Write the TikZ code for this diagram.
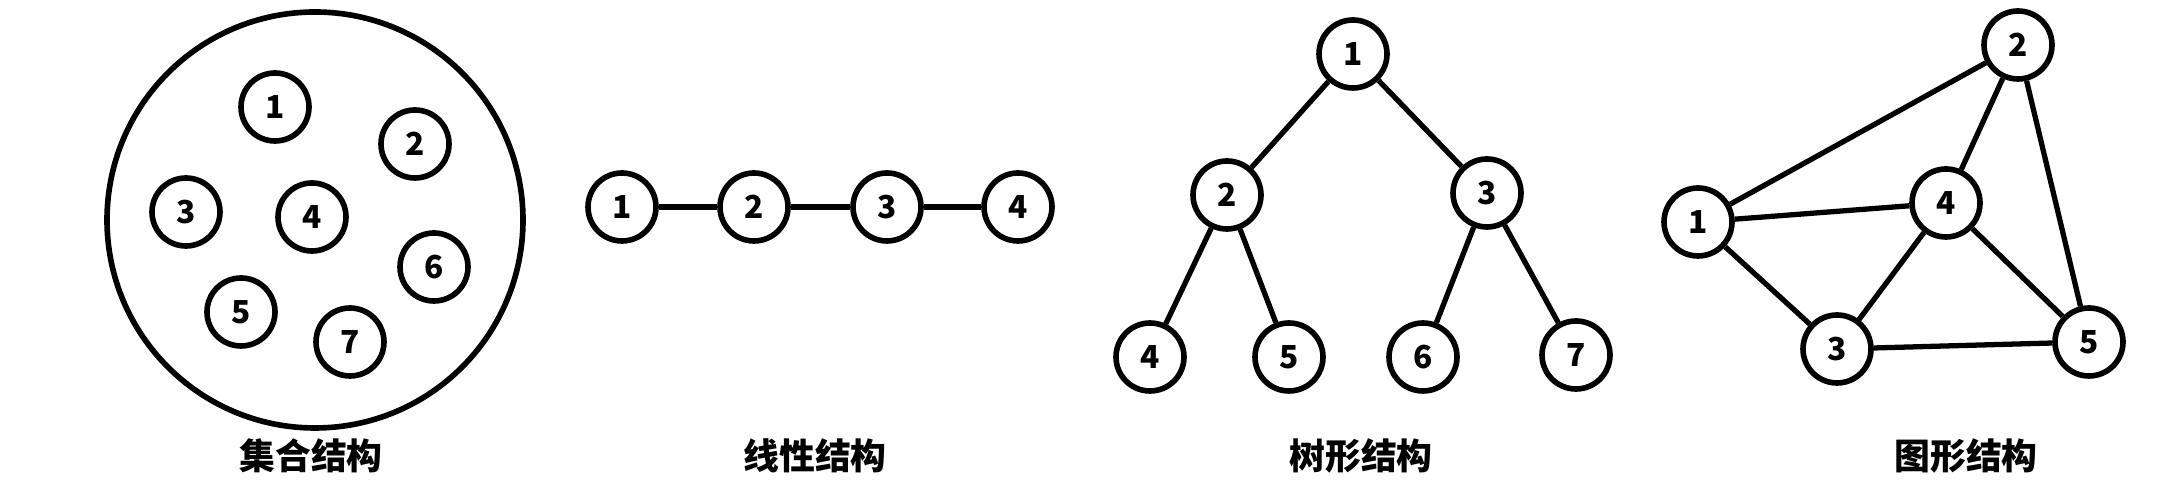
\documentclass[tikz,border=0pt]{standalone}
\usepackage{fontspec}
\setmainfont{Noto Sans CJK SC}
\begin{document}
\begin{tikzpicture}[elem/.style={
	circle, minimum size=6.8mm, inner sep=0pt,
	line width=1.6pt, draw=black,
	font=\bfseries\fontsize{9pt}{10pt}\selectfont},
	caption/.style={font=\bfseries\fontsize{10.2pt}{12pt}\selectfont},
	every edge/.style={draw, line width=1.5pt}]
	\useasboundingbox (0,0) rectangle (21.82,-4.86);
	% set
	\node[circle, minimum size=41.6mm, line width=1.6pt, draw, xshift=3.15cm, yshift=-2.20cm] (set) {};
	\node[elem, xshift=2.75cm, yshift=-1.07cm] (s1) {1};
	\node[elem, xshift=4.15cm, yshift=-1.44cm] (s2) {2};
	\node[elem, xshift=1.86cm, yshift=-2.12cm] (s3) {3};
	\node[elem, xshift=3.12cm, yshift=-2.17cm] (s4) {4};
	\node[elem, xshift=2.41cm, yshift=-3.12cm] (s5) {5};
	\node[elem, xshift=4.34cm, yshift=-2.67cm] (s6) {6};
	\node[elem, xshift=3.50cm, yshift=-3.42cm] (s7) {7};
	\node[caption, xshift=3.11cm, yshift=-4.56cm] (setlabel) {集合结构};
	% linear
	\node[elem, xshift=6.22cm, yshift=-2.07cm] (l1) {1};
	\node[elem, xshift=7.54cm, yshift=-2.07cm] (l2) {2};
	\node[elem, xshift=8.87cm, yshift=-2.07cm] (l3) {3};
	\node[elem, xshift=10.18cm, yshift=-2.07cm] (l4) {4};
	\node[caption, xshift=8.15cm, yshift=-4.56cm] (linlabel) {线性结构};
	\draw
				(l1) edge (l2)
				(l2) edge (l3)
				(l3) edge (l4);
	% tree
	\node[elem, xshift=13.53cm, yshift=-0.54cm] (t1) {1};
	\node[elem, xshift=12.27cm, yshift=-1.95cm] (t2) {2};
	\node[elem, xshift=14.87cm, yshift=-1.93cm] (t3) {3};
	\node[elem, xshift=11.50cm, yshift=-3.57cm] (t4) {4};
	\node[elem, xshift=12.89cm, yshift=-3.57cm] (t5) {5};
	\node[elem, xshift=14.23cm, yshift=-3.57cm] (t6) {6};
	\node[elem, xshift=15.76cm, yshift=-3.55cm] (t7) {7};
	\node[caption, xshift=13.61cm, yshift=-4.56cm] (treelabel) {树形结构};
	\draw
				(t1) edge (t2)
				(t1) edge (t3)
				(t2) edge (t4)
				(t2) edge (t5)
				(t3) edge (t6)
				(t3) edge (t7);
	% graph
	\node[elem, xshift=16.98cm, yshift=-2.22cm] (g1) {1};
	\node[elem, xshift=20.18cm, yshift=-0.45cm] (g2) {2};
	\node[elem, xshift=18.37cm, yshift=-3.49cm] (g3) {3};
	\node[elem, xshift=19.46cm, yshift=-2.03cm] (g4) {4};
	\node[elem, xshift=20.89cm, yshift=-3.42cm] (g5) {5};
	\node[caption, xshift=19.66cm, yshift=-4.56cm] (graphlabel) {图形结构};
	\draw
				(g1) edge (g2)
				(g1) edge (g4)
				(g1) edge (g3)
				(g2) edge (g4)
				(g2) edge (g5)
				(g4) edge (g3)
				(g4) edge (g5)
				(g3) edge (g5);
\end{tikzpicture}
\end{document}
